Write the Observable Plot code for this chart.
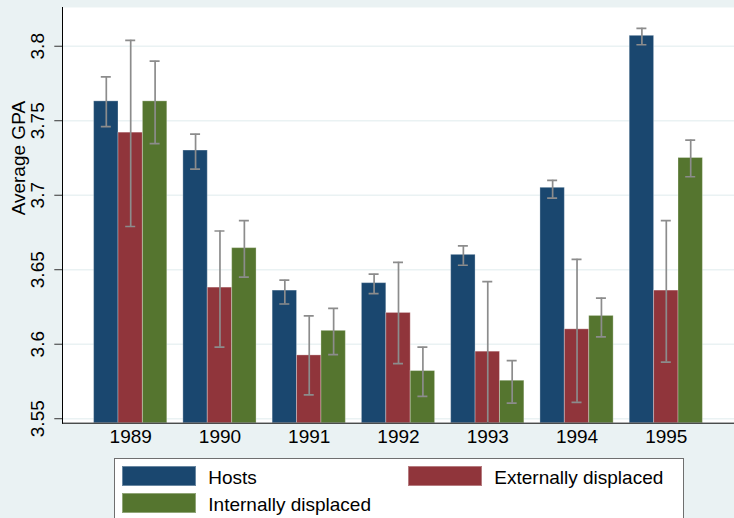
<!DOCTYPE html>
<html>
<head>
<meta charset="utf-8">
<script src="https://cdn.jsdelivr.net/npm/d3@7"></script>
<script src="https://cdn.jsdelivr.net/npm/@observablehq/plot@0.6"></script>
<style>
  html, body { margin: 0; padding: 0; background: #eaf2f3; }
  #wrap { position: relative; width: 734px; height: 518px; overflow: hidden; background: #eaf2f3;
          font-family: "Liberation Sans", Arial, Helvetica, sans-serif; }
  #chart { position: relative; width: 734px; height: 452px; }
  #chart svg { display: block; position: absolute; left: 0; top: 0; }
  #legend { position: absolute; left: 114px; top: 457.7px; width: 570px; height: 90px;
            box-sizing: border-box; border: 1px solid #6f6f6f; background: #fff;
            padding: 7.3px 0 0 7.3px; display: grid;
            grid-template-columns: 74px 212px 74px auto; grid-auto-rows: 20.5px; row-gap: 6.2px;
            font-size: 19px; color: #000; }
  #legend .sw { box-sizing: border-box; border: 1px solid rgba(255,255,255,0.35); }
  #legend .lab { padding-left: 12px; line-height: 20.5px; transform: translateY(1.8px); white-space: nowrap; }
</style>
</head>
<body>
<div id="wrap">
  <div id="chart"></div>
  <div id="legend"></div>
</div>
<script>
// ---- data ----
const years = ["1989", "1990", "1991", "1992", "1993", "1994", "1995"];
const series = ["Hosts", "Externally displaced", "Internally displaced"];
const colors = ["#1a476f", "#90353b", "#55752f"];

const hostsMean = [3.763, 3.730, 3.636, 3.641, 3.660, 3.705, 3.807];
const hostsLo   = [3.746, 3.7175, 3.627, 3.634, 3.653, 3.698, 3.801];
const hostsHi   = [3.7795, 3.741, 3.643, 3.647, 3.666, 3.710, 3.812];

const extMean = [3.742, 3.638, 3.5925, 3.621, 3.595, 3.610, 3.636];
const extLo   = [3.679, 3.598, 3.566, 3.587, 3.546, 3.561, 3.588];
const extHi   = [3.804, 3.676, 3.619, 3.655, 3.642, 3.657, 3.683];

const intMean = [3.763, 3.6645, 3.609, 3.582, 3.5755, 3.619, 3.725];
const intLo   = [3.7346, 3.645, 3.593, 3.565, 3.5605, 3.605, 3.7124];
const intHi   = [3.790, 3.683, 3.624, 3.598, 3.589, 3.631, 3.737];

const yTicks = [3.55, 3.6, 3.65, 3.7, 3.75, 3.8];
const yTickLabels = ["3.55", "3.6", "3.65", "3.7", "3.75", "3.8"];
const yLabel = "Average GPA";

// ---- table ----
const cols = [[hostsMean, hostsLo, hostsHi], [extMean, extLo, extHi], [intMean, intLo, intHi]];
const data = [];
years.forEach((yr, i) => {
  series.forEach((s, j) => {
    data.push({year: yr, series: s, mean: cols[j][0][i], lo: cols[j][1][i], hi: cols[j][2][i]});
  });
});

const yDomain = [3.547, 3.826];
const errColor = "#8c8c8c";
const common = {
  width: 734,
  height: 452,
  marginTop: 7,
  marginBottom: 29.3,
  marginLeft: 62,
  marginRight: 0,
  style: {background: "transparent", fontFamily: "'Liberation Sans', Arial, Helvetica, sans-serif", fontSize: "19px", color: "#000"}
};

// background layer: plot area, grid
const backLayer = Plot.plot({
  ...common,
  x: {axis: null},
  y: {domain: yDomain, axis: null},
  marks: [
    Plot.frame({fill: "white", stroke: "none"}),
    Plot.ruleY(yTicks, {y: d => d, stroke: "#eaf2f3", strokeWidth: 1.6})
  ]
});

// middle layer: grouped bars with error bars
const barLayer = Plot.plot({
  ...common,
  fx: {domain: years, paddingInner: 0.18, paddingOuter: 0.354, round: false, label: null, axis: "bottom", tickSize: 0, tickPadding: 6},
  x: {domain: series, padding: 0, round: false, axis: null},
  y: {domain: yDomain, axis: null},
  color: {domain: series, range: colors},
  marks: [
    Plot.barY(data, {fx: "year", x: "series", y1: yDomain[0], y2: "mean", fill: "series",
                     stroke: "white", strokeOpacity: 0.3, strokeWidth: 1}),
    Plot.ruleX(data, {fx: "year", x: "series", y1: "lo", y2: "hi", stroke: errColor, strokeWidth: 1.7, clip: true}),
    Plot.tickY(data, {fx: "year", x: "series", y: "lo", stroke: errColor, strokeWidth: 1.7, inset: 7.2, clip: true}),
    Plot.tickY(data, {fx: "year", x: "series", y: "hi", stroke: errColor, strokeWidth: 1.7, inset: 7.2, clip: true})
  ]
});

// top layer: axis lines, y axis, y label
const axisLayer = Plot.plot({
  ...common,
  x: {axis: null},
  y: {domain: yDomain, axis: null},
  marks: [
    Plot.axisY(yTicks, {tickSize: 7.7, tickRotate: -90, tickPadding: 10.8,
                        tickFormat: (d, i) => yTickLabels[i], label: null, stroke: "#333", fontSize: 19}),
    Plot.text([yLabel], {frameAnchor: "left", dx: -44, rotate: -90, fontSize: 19, fill: "#000"}),
    Plot.frame({anchor: "left", stroke: "#000", strokeWidth: 1}),
    Plot.frame({anchor: "bottom", stroke: "#000", strokeWidth: 1})
  ]
});

const holder = document.getElementById("chart");
holder.appendChild(backLayer);
holder.appendChild(barLayer);
holder.appendChild(axisLayer);

// ---- legend ----
const legend = document.getElementById("legend");
series.forEach((s, j) => {
  const sw = document.createElement("div");
  sw.className = "sw";
  sw.style.background = colors[j];
  const lab = document.createElement("div");
  lab.className = "lab";
  lab.textContent = s;
  legend.appendChild(sw);
  legend.appendChild(lab);
});
</script>
</body>
</html>
